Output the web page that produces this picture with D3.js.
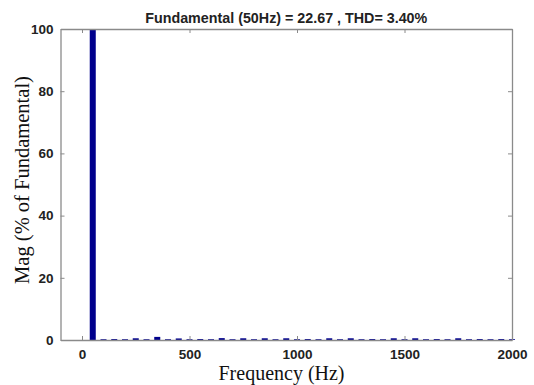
<!DOCTYPE html>
<html><head><meta charset="utf-8">
<script src="https://cdn.jsdelivr.net/npm/d3@7"></script>
<style>body{margin:0;background:#fff;} svg{display:block;}</style>
</head><body>
<script>
// Harmonic frequencies (Hz) and magnitudes (% of fundamental)
const freqs = [50,100,150,200,250,300,350,400,450,500,550,600,650,700,750,800,850,900,950,1000,
  1050,1100,1150,1200,1250,1300,1350,1400,1450,1500,1550,1600,1650,1700,1750,1800,1850,1900,1950,2000];
const mags = [100,0.25,0.3,0.25,0.55,0.25,1.0,0.25,0.5,0.25,0.3,0.25,0.6,0.25,0.55,0.25,0.55,0.25,0.55,0.25,
  0.3,0.25,0.55,0.25,0.55,0.25,0.3,0.25,0.55,0.25,0.55,0.25,0.3,0.25,0.55,0.25,0.3,0.25,0.3,0.25];
const xTicks = [0,500,1000,1500,2000];
const yTicks = [0,20,40,60,80,100];
const title = "Fundamental (50Hz) = 22.67 , THD= 3.40%";
const xLabel = "Frequency (Hz)";
const yLabel = "Mag (% of Fundamental)";

const W = 534, H = 385;
const m = {left:60.5, right:22, top:29, bottom:45};
const svg = d3.select("body").append("svg").attr("width",W).attr("height",H);
const x = d3.scaleLinear().domain([-100,2000]).range([m.left, W-m.right]);
const y = d3.scaleLinear().domain([0,100]).range([H-m.bottom, m.top]);
const bw = x(28) - x(0);
const axisColor = "#8a8a8a";

// bars
svg.append("g").selectAll("rect").data(freqs).join("rect")
  .attr("x", (d)=>x(d)-bw/2)
  .attr("width", bw)
  .attr("y", (d,i)=>y(mags[i]))
  .attr("height", (d,i)=>y(0)-y(mags[i]))
  .attr("fill", "#00008c");

const tf = "Liberation Sans, Arial, sans-serif";
const fmt = d3.format("d");
// axes
const xa = svg.append("g").attr("transform",`translate(0,${y(0)})`)
  .call(d3.axisBottom(x).tickValues(xTicks).tickFormat(fmt).tickSizeInner(-4).tickSizeOuter(0).tickPadding(9));
const xt = svg.append("g").attr("transform",`translate(0,${y(100)})`)
  .call(d3.axisTop(x).tickValues(xTicks).tickSizeInner(-4).tickSizeOuter(0).tickFormat(""));
const ya = svg.append("g").attr("transform",`translate(${x(-100)},0)`)
  .call(d3.axisLeft(y).tickValues(yTicks).tickFormat(fmt).tickSizeInner(-4).tickSizeOuter(0).tickPadding(7));
const yr = svg.append("g").attr("transform",`translate(${x(2000)},0)`)
  .call(d3.axisRight(y).tickValues(yTicks).tickSizeInner(-4).tickSizeOuter(0).tickFormat(""));
[xa,xt,ya,yr].forEach(g=>{
  g.selectAll("path").attr("stroke",axisColor).attr("stroke-width",1.3);
  g.selectAll("line").attr("stroke",axisColor);
  g.selectAll("text").attr("font-family",tf).attr("font-weight","bold").attr("font-size",13.5).attr("fill","#222");
});

// title
svg.append("text").attr("x",(x(-100)+x(2000))/2).attr("y",23).attr("text-anchor","middle")
  .attr("font-family",tf).attr("font-weight","bold").attr("font-size",14.3).attr("fill","#222").text(title);
// x label
svg.append("text").attr("x",281.5).attr("y",380).attr("text-anchor","middle")
  .attr("font-family","Liberation Serif, Times New Roman, serif").attr("font-size",20).attr("fill","#111").text(xLabel);
// y label
svg.append("text").attr("transform","translate(29,180) rotate(-90)").attr("text-anchor","middle")
  .attr("font-family","Liberation Serif, Times New Roman, serif").attr("font-size",20.5).attr("fill","#111").text(yLabel);
</script>
</body></html>
